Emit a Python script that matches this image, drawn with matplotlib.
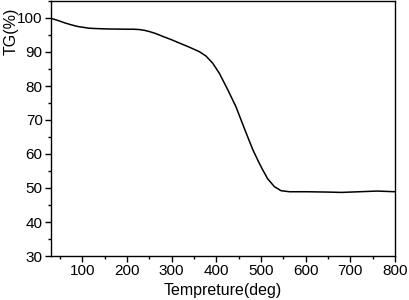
import matplotlib
matplotlib.use("Agg")
import matplotlib.pyplot as plt
from matplotlib.ticker import MultipleLocator

temperature = [30, 45, 60, 75, 90, 100, 115, 130, 150, 170, 200, 215, 228, 240, 252, 265,
               280, 300, 318, 340, 362, 377, 392, 407, 426, 444, 467, 482, 495, 504,
               515, 530, 545, 564, 604, 650, 680, 720, 760, 800]
tg = [99.9, 99.3, 98.6, 98.0, 97.5, 97.3, 97.0, 96.9, 96.8, 96.75, 96.7, 96.7, 96.6, 96.35, 95.95, 95.4,
      94.6, 93.6, 92.6, 91.4, 90.1, 88.8, 86.7, 83.7, 78.8, 73.9, 66.1, 61.2, 57.6, 55.3,
      52.7, 50.4, 49.2, 48.9, 48.9, 48.8, 48.7, 48.9, 49.1, 48.9]
xticks = [100, 200, 300, 400, 500, 600, 700, 800]
yticks = [30, 40, 50, 60, 70, 80, 90, 100]

plt.rcParams['font.family'] = ['Liberation Sans', 'DejaVu Sans']
fig = plt.figure(figsize=(4.09, 3.0), dpi=100)
ax = fig.add_axes([51/409, 44/300, 344/409, 255/300])
ax.plot(temperature, tg, color='black', lw=1.1)
ax.set_xlim(30, 800)
ax.set_ylim(30, 105)
ax.set_xticks(xticks)
ax.set_yticks(yticks)
ax.xaxis.set_minor_locator(MultipleLocator(50))
ax.yaxis.set_minor_locator(MultipleLocator(5))
ax.tick_params(which='major', direction='out', length=4, width=1, labelsize=11, pad=2)
ax.tick_params(which='minor', direction='out', length=2, width=1)
for s in ax.spines.values():
    s.set_linewidth(1)
ax.set_xlabel('Tempreture(deg)', fontsize=11.5, labelpad=3)
ax.set_ylabel('TG(%)', fontsize=11.5)
ax.yaxis.set_label_coords(-32/344, (256 - 31) / 255, transform=ax.transAxes)
fig.savefig('out.png', dpi=100)
